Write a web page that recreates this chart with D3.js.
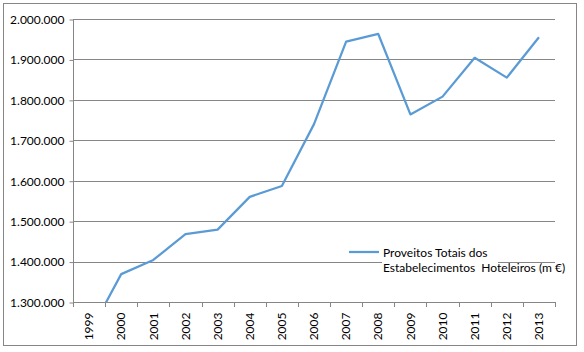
<!DOCTYPE html>
<html>
<head>
<meta charset="utf-8">
<script src="https://cdn.jsdelivr.net/npm/d3@7"></script>
<style>
  body { margin: 0; background: #fff; }
  text { font-family: Lato, "Open Sans", sans-serif; fill: #000; }
</style>
</head>
<body>
<script>
var w = 584;
var h = 352;

// chart data
var years = ["1999","2000","2001","2002","2003","2004","2005","2006","2007","2008","2009","2010","2011","2012","2013"];
var proveitos = [1221000, 1369000, 1404000, 1468000, 1479000, 1560000, 1587000, 1740000, 1944000, 1963000, 1764000, 1808000, 1904000, 1855000, 1955000];
var yTicks = [1300000, 1400000, 1500000, 1600000, 1700000, 1800000, 1900000, 2000000];
var legendLines = ["Proveitos Totais dos", "Estabelecimentos  Hoteleiros (m \u20ac)"];

var plotLeft = 73, plotRight = 555, plotTop = 19, plotBottom = 302;
var grey = "#868686";
var blue = "#5B9BD5";

var svg = d3.select("body")
  .append("svg")
  .attr("width", w)
  .attr("height", h);

// outer frame
svg.append("rect")
  .attr("x", 3.5).attr("y", 3.5)
  .attr("width", 573).attr("height", 342)
  .attr("fill", "#fff")
  .attr("stroke", grey);

var x = d3.scaleBand().domain(years).range([plotLeft, plotRight]);
var y = d3.scaleLinear().domain([1300000, 2000000]).range([plotBottom, plotTop]);

var fmt = function(d){ return d3.format(",")(d).replace(/,/g, "."); };

// gridlines
svg.selectAll("line.grid")
  .data(yTicks.slice(1))
  .enter()
  .append("line")
  .attr("class", "grid")
  .attr("x1", plotLeft).attr("x2", plotRight)
  .attr("y1", function(d){ return Math.round(y(d)) + 0.5; })
  .attr("y2", function(d){ return Math.round(y(d)) + 0.5; })
  .attr("stroke", grey);

// y axis
var yAxis = svg.append("g")
  .attr("transform", "translate(" + (plotLeft + 0.5) + ",0.5)")
  .call(d3.axisLeft(y).tickValues(yTicks).tickFormat(fmt).tickSize(4).tickPadding(5));
yAxis.selectAll("path, line").attr("stroke", grey);
yAxis.select(".domain").attr("d", "M0," + plotTop + "V" + plotBottom);
yAxis.selectAll("text").attr("font-size", 12).style("font-family", "Lato, sans-serif");

// x axis
var xAxis = svg.append("g")
  .attr("transform", "translate(0," + (plotBottom + 0.5) + ")")
  .call(d3.axisBottom(x).tickSize(0).tickPadding(0));
xAxis.select(".domain").attr("stroke", grey).attr("d", "M" + plotLeft + ",0H" + plotRight);
xAxis.selectAll(".tick text")
  .attr("font-size", 12)
  .style("font-family", "Lato, sans-serif")
  .attr("transform", "rotate(-90)")
  .attr("text-anchor", "end")
  .attr("x", -10)
  .attr("y", 0)
  .attr("dy", "0.35em");
// category boundary ticks
svg.selectAll("line.xtick")
  .data(years.concat(["end"]))
  .enter()
  .append("line")
  .attr("class", "xtick")
  .attr("x1", function(d, i){ return Math.round(plotLeft + i * x.step()) + 0.5; })
  .attr("x2", function(d, i){ return Math.round(plotLeft + i * x.step()) + 0.5; })
  .attr("y1", plotBottom).attr("y2", plotBottom + 5)
  .attr("stroke", grey);

// clip to plot area
svg.append("clipPath").attr("id", "plot")
  .append("rect")
  .attr("x", plotLeft).attr("y", plotTop - 10)
  .attr("width", plotRight - plotLeft).attr("height", plotBottom - plotTop + 10);

var line = d3.line()
  .x(function(d, i){ return x(years[i]) + x.bandwidth() / 2; })
  .y(function(d){ return y(d); });

svg.append("path")
  .datum(proveitos)
  .attr("clip-path", "url(#plot)")
  .attr("d", line)
  .attr("fill", "none")
  .attr("stroke", blue)
  .attr("stroke-width", 2.25)
  .attr("stroke-linejoin", "round");

// legend
var lg = svg.append("g");
lg.append("rect")
  .attr("x", 382).attr("y", 243)
  .attr("width", 116).attr("height", 34)
  .attr("fill", "#fff");
lg.append("line")
  .attr("x1", 349).attr("x2", 379)
  .attr("y1", 252).attr("y2", 252)
  .attr("stroke", blue).attr("stroke-width", 2.25);
lg.selectAll("text")
  .data(legendLines)
  .enter()
  .append("text")
  .attr("x", 383)
  .attr("y", function(d, i){ return 257 + i * 15; })
  .attr("font-size", 12)
  .style("white-space", "pre")
  .text(function(d){ return d; });
</script>
</body>
</html>
